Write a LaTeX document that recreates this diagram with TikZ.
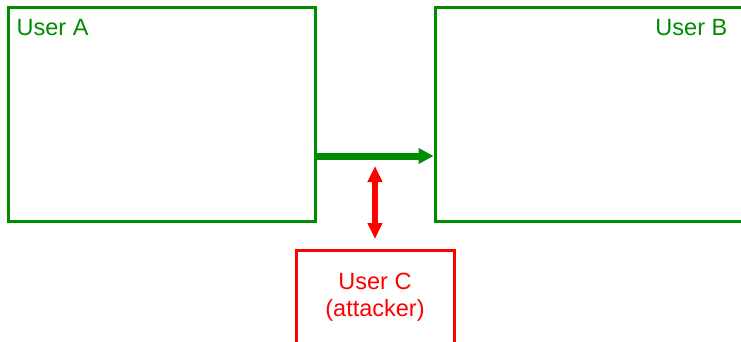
\documentclass[tikz,border=0pt]{standalone}
\usepackage{fontspec}
\setmainfont{Liberation Sans}
\usepackage{tikz}
\usetikzlibrary{arrows.meta}
\usetikzlibrary{calc}
\definecolor{usergreen}{RGB}{0,140,0}
\definecolor{userred}{RGB}{255,0,0}
\newcommand{\picsizex}{741pt}
\newcommand{\picsizey}{341pt}
\newcommand{\userwidth}{307pt}
\newcommand{\userheight}{213pt}
\newcommand{\labelfont}{\fontsize{23.5}{27}\selectfont}

\begin{document}
\begin{tikzpicture}[x=1pt,y=1pt,
    userbox/.style={draw=usergreen, line width=3pt, inner sep=0pt,
      minimum width=\userwidth, minimum height=\userheight},
    attackbox/.style={draw=userred, line width=3pt, inner sep=0pt,
      minimum width=158pt, minimum height=100pt},
    usertext/.style={text=usergreen, inner sep=0pt, font=\labelfont},
    attacktext/.style={text=userred, inner sep=0pt, font=\labelfont, align=center},
    sendarrow/.style={draw=usergreen, line width=7pt,
      -{Triangle[length=15pt,width=15pt]}},
    tapArrow/.style={draw=userred, line width=6.5pt,
      {Triangle[length=16pt,width=14pt]}-{Triangle[length=16pt,width=14pt]}}]
    \useasboundingbox (0,0) rectangle (\picsizex,\picsizey);

    % user a part
    \node[userbox] (boxA) at (161.5,226.5) {};
    \node[usertext, anchor=base west] (labA) at ($(boxA.north west)+(10,-29)$) {User A};

    % user b part
    \node[userbox, minimum width=308pt] (boxB) at (589,226.5) {};
    \node[usertext, anchor=base east] (labB) at ($(boxB.north west)+(294,-29)$) {User B};

    % attacker part
    \node[attackbox, anchor=north] (boxC) at (375,92) {};
    \node[attacktext, anchor=north] (labC) at ($(boxC.north)+(0,-24)$) {User C\\(attacker)};

    % connections
    \coordinate (wire) at (0,185);
    \coordinate (tapC) at (375,175);
    \draw[sendarrow] (boxA.east |- wire) -- (boxB.west |- wire);
    \draw[tapArrow] (tapC) -- ($(boxC.north)+(0,10)$);
  \end{tikzpicture}
\end{document}
